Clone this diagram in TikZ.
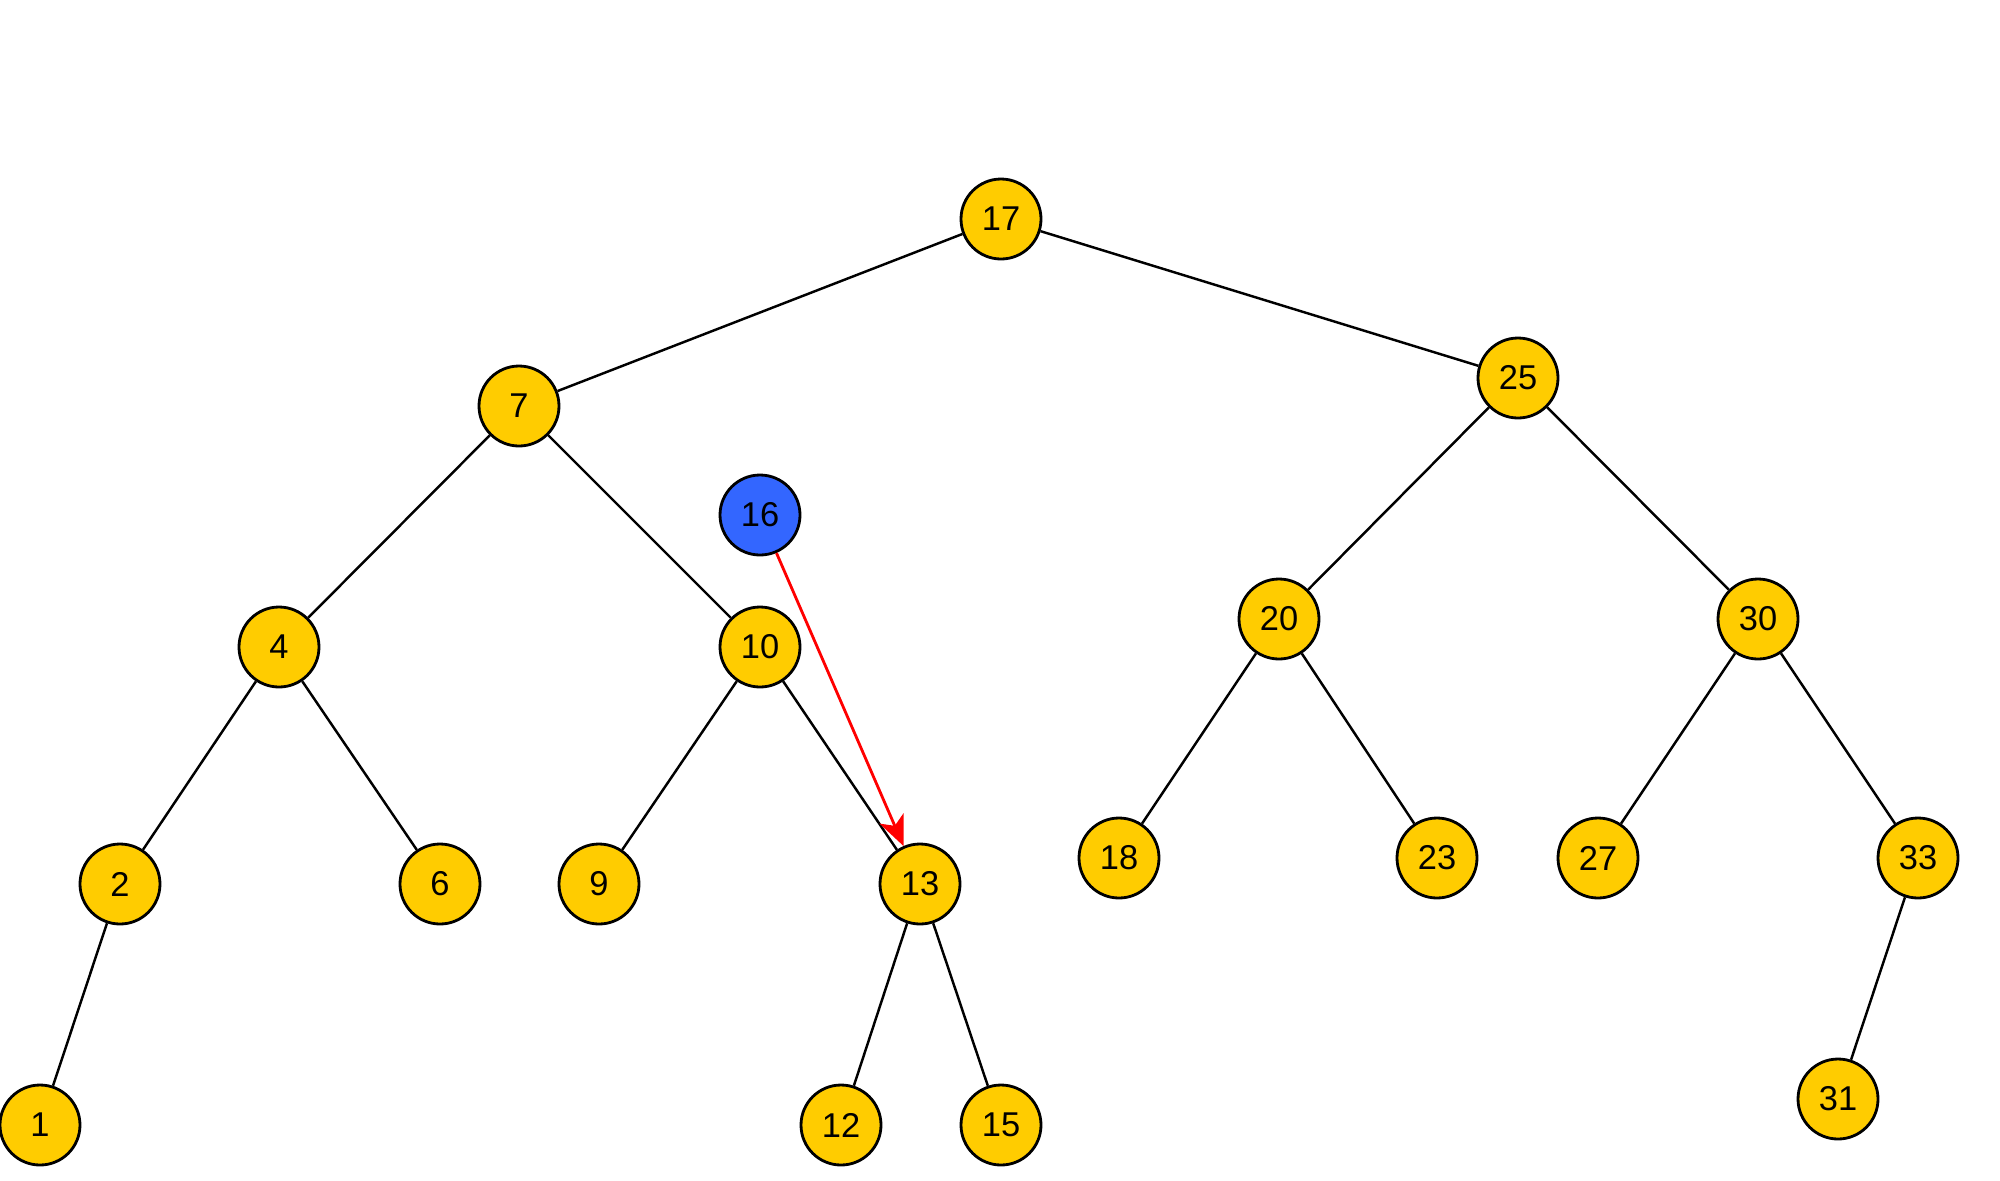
\documentclass[tikz,border=0pt]{standalone}
\usepackage{fontspec}
\setmainfont{Liberation Sans}
\usetikzlibrary{arrows.meta}
\definecolor{nodeyellow}{HTML}{FFCC00}
\definecolor{nodeblue}{HTML}{3366FF}
\definecolor{edgedark}{HTML}{000000}
\definecolor{insred}{HTML}{FF0000}

\begin{document}
\begin{tikzpicture}[
    key/.style={circle, draw=edgedark, line width=0.8pt, fill=nodeyellow,
        minimum size=0.8cm, inner sep=0pt, font=\fontsize{9.8}{11}\selectfont},
    newkey/.style={key, fill=nodeblue},
    edge/.style={line width=0.7pt, edgedark},
    >={Stealth[length=3mm, width=2.6mm, inset=0.8mm]}
]

% Canvas
\useasboundingbox (0,0) rectangle (20,-11.8);

% Level 0 and 1
\node[key] (n17) at (10.01,-2.19) {17};
\node[key] (n7)  at (5.19,-4.06) {7};
\node[key] (n25) at (15.18,-3.78) {25};

% Level 2
\node[key] (n4)  at (2.79,-6.47) {4};
\node[key] (n10) at (7.60,-6.47) {10};
\node[key] (n20) at (12.79,-6.19) {20};
\node[key] (n30) at (17.58,-6.19) {30};

% Level 3
\node[key] (n2)  at (1.20,-8.84) {2};
\node[key] (n6)  at (4.40,-8.84) {6};
\node[key] (n9)  at (5.99,-8.84) {9};
\node[key] (n13) at (9.20,-8.84) {13};
\node[key] (n18) at (11.19,-8.58) {18};
\node[key] (n23) at (14.37,-8.58) {23};
\node[key] (n27) at (15.98,-8.58) {27};
\node[key] (n33) at (19.18,-8.58) {33};

% Level 4
\node[key] (n1)  at (0.40,-11.25) {1};
\node[key] (n12) at (8.41,-11.25) {12};
\node[key] (n15) at (10.01,-11.25) {15};
\node[key] (n31) at (18.38,-10.99) {31};

% Key being inserted
\node[newkey] (n16) at (7.60,-5.15) {16};

% Tree edges
\foreach \a/\b in {n17/n7, n17/n25, n7/n4, n7/n10, n25/n20, n25/n30,
    n4/n2, n4/n6, n10/n9, n10/n13, n20/n18, n20/n23, n30/n27, n30/n33,
    n2/n1, n13/n12, n13/n15, n33/n31}
    \draw[edge] (\a) -- (\b);

% Insertion path
\draw[->, line width=0.8pt, insred] (n16) -- (n13);

\end{tikzpicture}
\end{document}
